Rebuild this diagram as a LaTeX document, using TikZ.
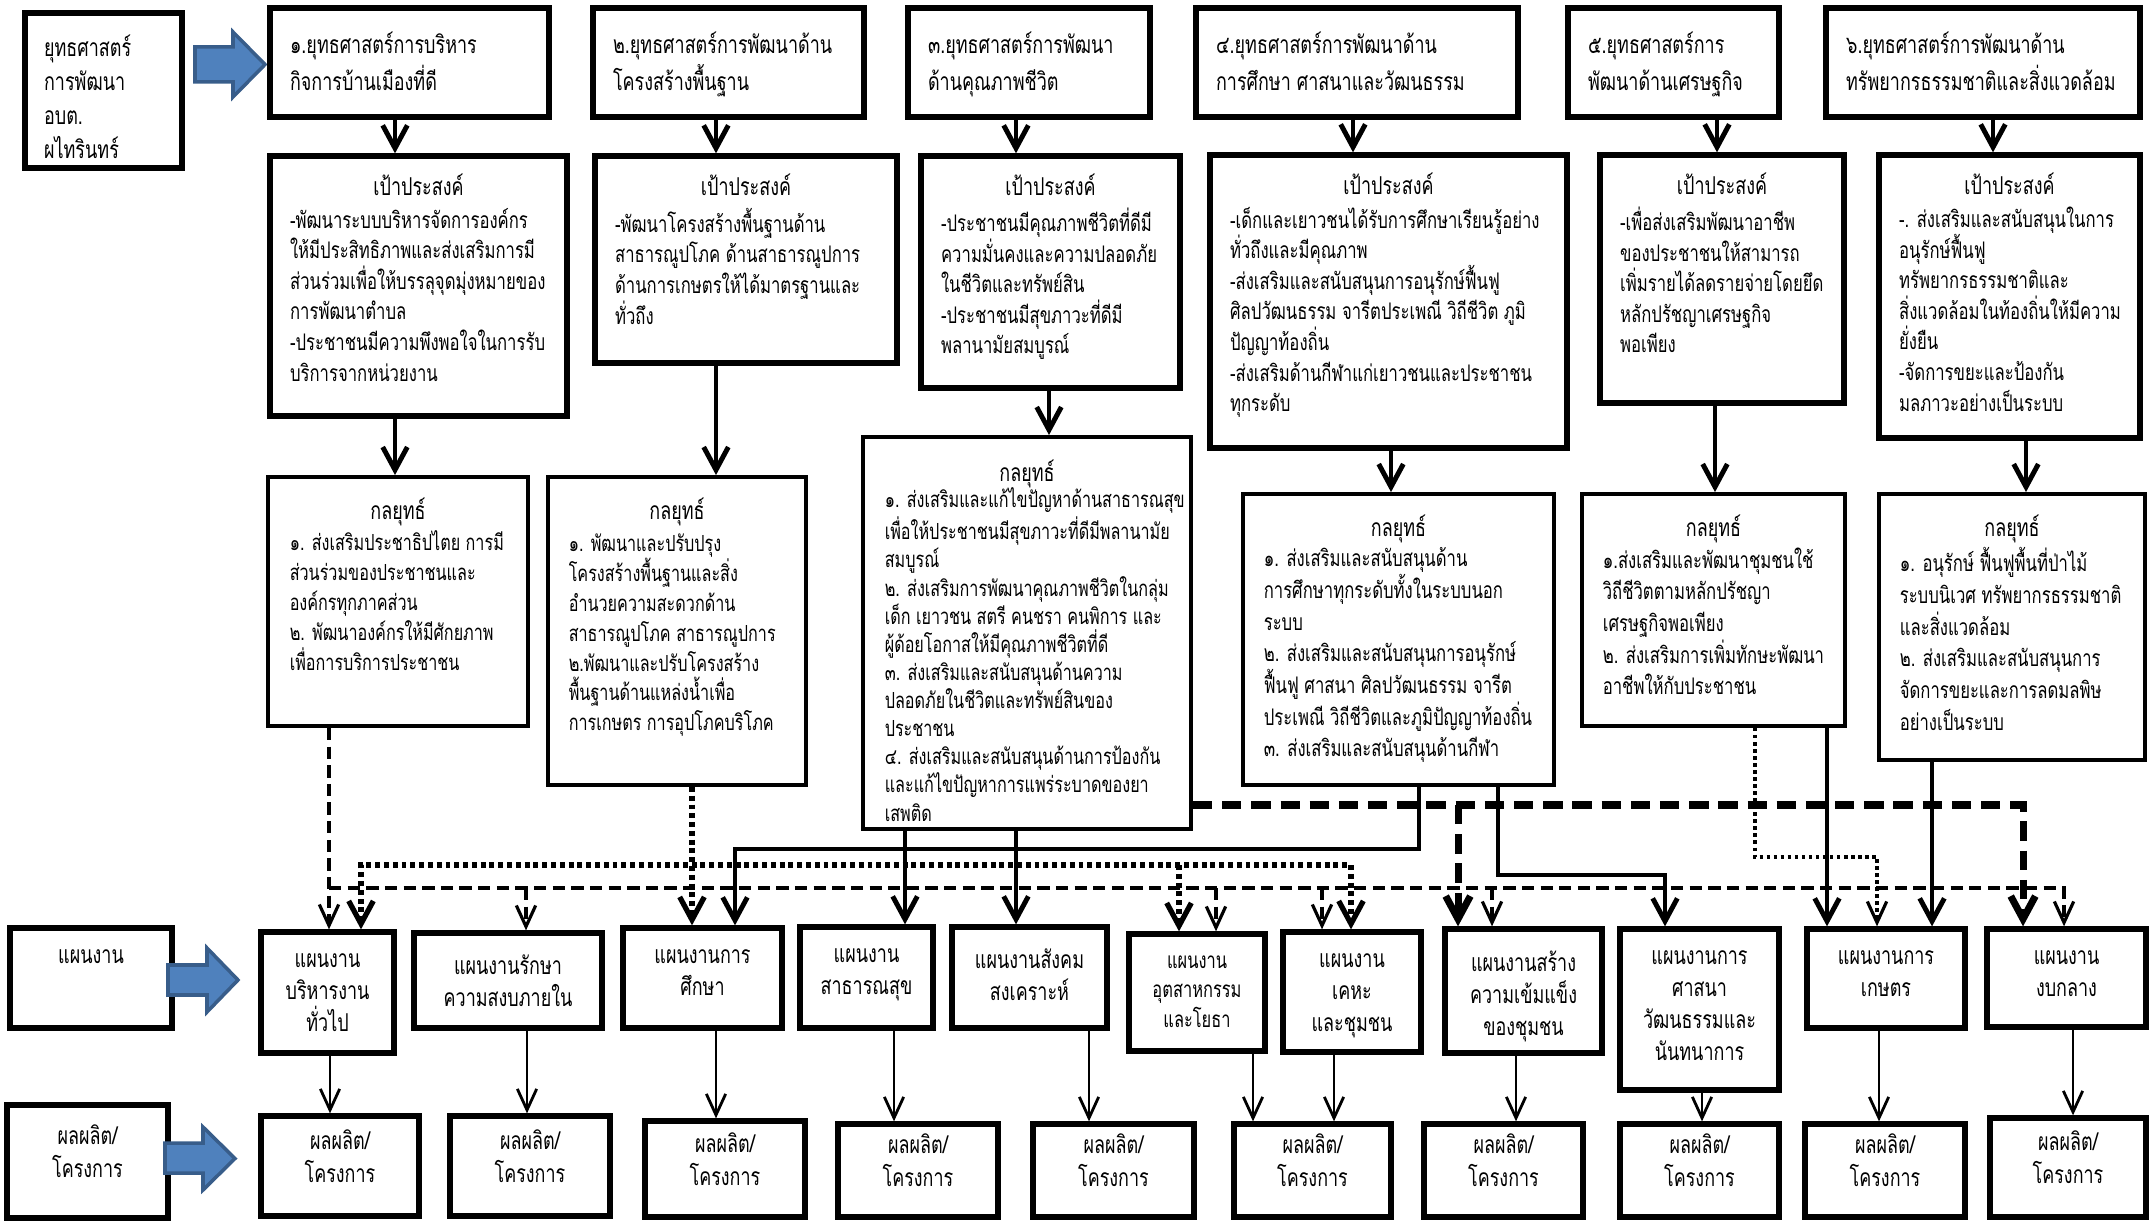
\documentclass[tikz,border=0pt]{standalone}
\usepackage{fontspec}
\newfontfamily\thai[Script=Thai,FakeStretch=0.73]{Loma}
\usetikzlibrary{arrows.meta, positioning, fit}

\definecolor{arrowfill}{RGB}{79,129,189}
\definecolor{arrowline}{RGB}{56,93,138}

\tikzset{
    tbox/.style={draw, line width=1.5pt, inner sep=0pt},
    kbox/.style={draw, line width=1.1pt, inner sep=0pt},
    stxt/.style={anchor=north west, align=left, inner sep=0pt,
        font=\thai\fontsize{7}{10.5}\selectfont},
    gtxt/.style={anchor=north west, align=left, inner sep=0pt,
        font=\thai\fontsize{6.5}{8.7}\selectfont},
    ktxt/.style={anchor=north west, align=left, inner sep=0pt,
        font=\thai\fontsize{6.3}{8.5}\selectfont},
    ptxt/.style={anchor=north, align=center, inner sep=0pt,
        font=\thai\fontsize{7}{9.1}\selectfont},
    title/.style={anchor=north, inner sep=0pt,
        font=\thai\fontsize{7}{9}\selectfont},
    bighead/.style={-{Straight Barb[length=6.5pt,width=7pt]}},
    thinhead/.style={-{Straight Barb[length=6pt,width=5.5pt]}},
    thickarr/.style={line width=1.4pt, bighead},
    thinarr/.style={line width=0.8pt, thinhead},
    thindash/.style={line width=0.9pt, dash pattern=on 3.5pt off 1.8pt, thinhead},
    thickdot/.style={line width=1.5pt, dash pattern=on 1.4pt off 1.1pt},
    heavydash/.style={line width=2pt, dash pattern=on 5.5pt off 2.8pt, bighead},
    lightdot/.style={line width=0.9pt, dash pattern=on 1pt off 1pt, thinhead},
    bluearr/.style={fill=arrowfill, draw=arrowline, line width=1pt},
}

\begin{document}
\begin{tikzpicture}[x=0.01cm, y=-0.01cm]
    \useasboundingbox (0,0) rectangle (2149,1222);

    % left column
    \node[tbox, fit={(25,13) (182,168)}]    (L1) {};
    \node[tbox, fit={(10,928) (172,1028)}]  (L2) {};
    \node[tbox, fit={(7,1105) (168,1218)}, align=center, font=\thai\fontsize{7}{9.4}\selectfont] (L3) {ผลผลิต/\\โครงการ};
    \node[stxt, font=\thai\fontsize{7}{9.7}\selectfont] (L1t) at ([shift={(21,24)}]L1.north west)
        {ยุทธศาสตร์\\การพัฒนา\\อบต.\\ผไทรินทร์};
    \node[ptxt] (L2t) at ([yshift=-0.24cm]L2.north) {แผนงาน};

    \foreach \ya/\yb/\yc/\yd/\xa/\xb/\xc in {32/47/82/97/195/233/265,
                                         948/965/995/1012/168/207/238,
                                         1127/1143/1173/1190/165/203/235}
        \filldraw[bluearr] (\xa,\yb) -- (\xb,\yb) -- (\xb,\ya) -- (\xc,{(\ya+\yd)/2})
            -- (\xb,\yd) -- (\xb,\yc) -- (\xa,\yc) -- cycle;

    % strategies
    \node[tbox, fit={(270,8) (549,117)}]    (S1) {};
    \node[tbox, fit={(593,8) (864,117)}]    (S2) {};
    \node[tbox, fit={(908,8) (1150,117)}]   (S3) {};
    \node[tbox, fit={(1196,8) (1518,117)}]  (S4) {};
    \node[tbox, fit={(1568,8) (1779,117)}]  (S5) {};
    \node[tbox, fit={(1826,8) (2140,117)}]  (S6) {};
    \node[stxt] (S1t) at ([shift={(22,26)}]S1.north west) {๑.ยุทธศาสตร์การบริหาร\\กิจการบ้านเมืองที่ดี};
    \node[stxt] (S2t) at ([shift={(22,26)}]S2.north west) {๒.ยุทธศาสตร์การพัฒนาด้าน\\โครงสร้างพื้นฐาน};
    \node[stxt] (S3t) at ([shift={(22,26)}]S3.north west) {๓.ยุทธศาสตร์การพัฒนา\\ด้านคุณภาพชีวิต};
    \node[stxt] (S4t) at ([shift={(22,26)}]S4.north west) {๔.ยุทธศาสตร์การพัฒนาด้าน\\การศึกษา ศาสนาและวัฒนธรรม};
    \node[stxt] (S5t) at ([shift={(22,26)}]S5.north west) {๕.ยุทธศาสตร์การ\\พัฒนาด้านเศรษฐกิจ};
    \node[stxt] (S6t) at ([shift={(22,26)}]S6.north west) {๖.ยุทธศาสตร์การพัฒนาด้าน\\ทรัพยากรธรรมชาติและสิ่งแวดล้อม};

    % goals
    \node[tbox, fit={(270,156) (567,416)}]   (G1) {};
    \node[tbox, fit={(595,156) (897,363)}]   (G2) {};
    \node[tbox, fit={(921,156) (1180,388)}]  (G3) {};
    \node[tbox, fit={(1210,155) (1567,448)}] (G4) {};
    \node[tbox, fit={(1600,155) (1844,403)}] (G5) {};
    \node[tbox, fit={(1879,155) (2140,438)}] (G6) {};
    \foreach \g in {G1,G2,G3,G4,G5,G6}
        \node[title] (\g h) at ([yshift=-0.2cm]\g.north) {เป้าประสงค์};
    \node[gtxt] (G1t) at ([shift={(22,54)}]G1.north west) {-พัฒนาระบบบริหารจัดการองค์กร\\ให้มีประสิทธิภาพและส่งเสริมการมี\\ส่วนร่วมเพื่อให้บรรลุจุดมุ่งหมายของ\\การพัฒนาตำบล\\-ประชาชนมีความพึงพอใจในการรับ\\บริการจากหน่วยงาน};
    \node[gtxt] (G2t) at ([shift={(22,54)}]G2.north west) {-พัฒนาโครงสร้างพื้นฐานด้าน\\สาธารณูปโภค ด้านสาธารณูปการ\\ด้านการเกษตรให้ได้มาตรฐานและ\\ทั่วถึง};
    \node[gtxt] (G3t) at ([shift={(22,54)}]G3.north west) {-ประชาชนมีคุณภาพชีวิตที่ดีมี\\ความมั่นคงและความปลอดภัย\\ในชีวิตและทรัพย์สิน\\-ประชาชนมีสุขภาวะที่ดีมี\\พลานามัยสมบูรณ์};
    \node[gtxt] (G4t) at ([shift={(22,54)}]G4.north west) {-เด็กและเยาวชนได้รับการศึกษาเรียนรู้อย่าง\\ทั่วถึงและมีคุณภาพ\\-ส่งเสริมและสนับสนุนการอนุรักษ์ฟื้นฟู\\ศิลปวัฒนธรรม จารีตประเพณี วิถีชีวิต ภูมิ\\ปัญญาท้องถิ่น\\-ส่งเสริมด้านกีฬาแก่เยาวชนและประชาชน\\ทุกระดับ};
    \node[gtxt] (G5t) at ([shift={(22,54)}]G5.north west) {-เพื่อส่งเสริมพัฒนาอาชีพ\\ของประชาชนให้สามารถ\\เพิ่มรายได้ลดรายจ่ายโดยยึด\\หลักปรัชญาเศรษฐกิจ\\พอเพียง};
    \node[gtxt] (G6t) at ([shift={(22,54)}]G6.north west) {-. ส่งเสริมและสนับสนุนในการ\\อนุรักษ์ฟื้นฟู\\ทรัพยากรธรรมชาติและ\\สิ่งแวดล้อมในท้องถิ่นให้มีความ\\ยั่งยืน\\-จัดการขยะและป้องกัน\\มลภาวะอย่างเป็นระบบ};

    % tactics
    \node[kbox, fit={(268,477) (528,726)}]   (K1) {};
    \node[kbox, fit={(548,477) (806,785)}]   (K2) {};
    \node[kbox, fit={(863,437) (1191,829)}]  (K3) {};
    \node[kbox, fit={(1243,494) (1554,785)}] (K4) {};
    \node[kbox, fit={(1582,494) (1845,726)}] (K5) {};
    \node[kbox, fit={(1879,494) (2145,760)}] (K6) {};
    \node[title] (K1h) at ([yshift=-0.22cm]K1.north) {กลยุทธ์};
    \node[title] (K2h) at ([yshift=-0.22cm]K2.north) {กลยุทธ์};
    \node[title] (K3h) at ([yshift=-0.24cm]K3.north) {กลยุทธ์};
    \node[title] (K4h) at ([yshift=-0.22cm]K4.north) {กลยุทธ์};
    \node[title] (K5h) at ([yshift=-0.22cm]K5.north) {กลยุทธ์};
    \node[title] (K6h) at ([yshift=-0.22cm]K6.north) {กลยุทธ์};
    \node[ktxt] (K1t) at ([shift={(23,55)}]K1.north west) {๑. ส่งเสริมประชาธิปไตย การมี\\ส่วนร่วมของประชาชนและ\\องค์กรทุกภาคส่วน\\๒. พัฒนาองค์กรให้มีศักยภาพ\\เพื่อการบริการประชาชน};
    \node[ktxt] (K2t) at ([shift={(22,58)}]K2.north west) {๑. พัฒนาและปรับปรุง\\โครงสร้างพื้นฐานและสิ่ง\\อำนวยความสะดวกด้าน\\สาธารณูปโภค สาธารณูปการ\\๒.พัฒนาและปรับโครงสร้าง\\พื้นฐานด้านแหล่งน้ำเพื่อ\\การเกษตร การอุปโภคบริโภค};
    \node[ktxt, font=\thai\fontsize{6.3}{8}\selectfont] (K3t) at ([shift={(23,52)}]K3.north west) {๑. ส่งเสริมและแก้ไขปัญหาด้านสาธารณสุข\\เพื่อให้ประชาชนมีสุขภาวะที่ดีมีพลานามัย\\สมบูรณ์\\๒. ส่งเสริมการพัฒนาคุณภาพชีวิตในกลุ่ม\\เด็ก เยาวชน สตรี คนชรา คนพิการ และ\\ผู้ด้อยโอกาสให้มีคุณภาพชีวิตที่ดี\\๓. ส่งเสริมและสนับสนุนด้านความ\\ปลอดภัยในชีวิตและทรัพย์สินของ\\ประชาชน\\๔. ส่งเสริมและสนับสนุนด้านการป้องกัน\\และแก้ไขปัญหาการแพร่ระบาดของยา\\เสพติด};
    \node[gtxt, font=\thai\fontsize{6.5}{9}\selectfont] (K4t) at ([shift={(22,55)}]K4.north west) {๑. ส่งเสริมและสนับสนุนด้าน\\การศึกษาทุกระดับทั้งในระบบนอก\\ระบบ\\๒. ส่งเสริมและสนับสนุนการอนุรักษ์\\ฟื้นฟู ศาสนา ศิลปวัฒนธรรม จารีต\\ประเพณี วิถีชีวิตและภูมิปัญญาท้องถิ่น\\๓. ส่งเสริมและสนับสนุนด้านกีฬา};
    \node[gtxt, font=\thai\fontsize{6.5}{9}\selectfont] (K5t) at ([shift={(22,55)}]K5.north west) {๑.ส่งเสริมและพัฒนาชุมชนใช้\\วิถีชีวิตตามหลักปรัชญา\\เศรษฐกิจพอเพียง\\๒. ส่งเสริมการเพิ่มทักษะพัฒนา\\อาชีพให้กับประชาชน};
    \node[gtxt, font=\thai\fontsize{6.5}{9}\selectfont] (K6t) at ([shift={(22,55)}]K6.north west) {๑. อนุรักษ์ ฟื้นฟูพื้นที่ป่าไม้\\ระบบนิเวศ ทรัพยากรธรรมชาติ\\และสิ่งแวดล้อม\\๒. ส่งเสริมและสนับสนุนการ\\จัดการขยะและการลดมลพิษ\\อย่างเป็นระบบ};

    % plans
    \node[tbox, fit={(261,932) (394,1053)}]   (P1) {};
    \node[tbox, fit={(414,933) (602,1028)}]   (P2) {};
    \node[tbox, fit={(623,928) (782,1028)}]   (P3) {};
    \node[tbox, fit={(800,927) (933,1028)}]   (P4) {};
    \node[tbox, fit={(952,927) (1107,1028)}]  (P5) {};
    \node[tbox, fit={(1129,934) (1265,1051)}] (P6) {};
    \node[tbox, fit={(1283,932) (1421,1052)}] (P7) {};
    \node[tbox, fit={(1445,929) (1602,1053)}] (P8) {};
    \node[tbox, fit={(1620,929) (1779,1090)}] (P9) {};
    \node[tbox, fit={(1807,929) (1965,1028)}] (P10) {};
    \node[tbox, fit={(1987,929) (2146,1027)}] (P11) {};
    \node[ptxt] (P1t) at ([yshift=-0.24cm]P1.north) {แผนงาน\\บริหารงาน\\ทั่วไป};
    \node[ptxt] (P2t) at ([yshift=-0.24cm]P2.north) {แผนงานรักษา\\ความสงบภายใน};
    \node[ptxt] (P3t) at ([yshift=-0.24cm]P3.north) {แผนงานการ\\ศึกษา};
    \node[ptxt] (P4t) at ([yshift=-0.24cm]P4.north) {แผนงาน\\สาธารณสุข};
    \node[ptxt] (P5t) at ([yshift=-0.24cm]P5.north) {แผนงานสังคม\\สงเคราะห์};
    \node[ptxt, font=\thai\fontsize{6.4}{8.3}\selectfont] (P6t) at ([yshift=-0.24cm]P6.north) {แผนงาน\\อุตสาหกรรม\\และโยธา};
    \node[ptxt] (P7t) at ([yshift=-0.24cm]P7.north) {แผนงาน\\เคหะ\\และชุมชน};
    \node[ptxt] (P8t) at ([yshift=-0.24cm]P8.north) {แผนงานสร้าง\\ความเข้มแข็ง\\ของชุมชน};
    \node[ptxt] (P9t) at ([yshift=-0.24cm]P9.north) {แผนงานการ\\ศาสนา\\วัฒนธรรมและ\\นันทนาการ};
    \node[ptxt] (P10t) at ([yshift=-0.24cm]P10.north) {แผนงานการ\\เกษตร};
    \node[ptxt] (P11t) at ([yshift=-0.24cm]P11.north) {แผนงาน\\งบกลาง};

    % products
    \foreach \r/\xa/\ya/\xb/\yb in {R1/261/1116/419/1216, R2/450/1116/610/1216,
                                   R3/645/1121/805/1217, R4/838/1124/998/1217,
                                   R5/1033/1124/1194/1217, R6/1234/1124/1391/1217,
                                   R7/1424/1124/1583/1217, R8/1620/1124/1779/1217,
                                   R9/1805/1124/1965/1217, R10/1990/1118/2146/1217}
        \node[tbox, fit={(\xa,\ya) (\xb,\yb)}, align=center,
              font=\thai\fontsize{7}{9.4}\selectfont] (\r) {ผลผลิต/\\โครงการ};

    % strategy -> goal -> tactic
    \foreach \a/\b/\x in {S1/G1/395, S2/G2/716, S3/G3/1016,
                          S4/G4/1353, S5/G5/1717, S6/G6/1993}
        \draw[thickarr] (\a.south -| \x,0) -- (\b.north -| \x,0);
    \foreach \b/\c/\x in {G1/K1/395, G2/K2/716, G3/K3/1049,
                          G4/K4/1391, G5/K5/1715, G6/K6/2026}
        \draw[thickarr] (\b.south -| \x,0) -- (\c.north -| \x,0);

    % plan -> product
    \foreach \p/\r/\x in {P1/R1/330, P2/R2/527, P3/R3/716, P4/R4/894, P5/R5/1089,
                          P6/R6/1253, P7/R6/1334, P8/R7/1516, P9/R8/1702,
                          P10/R9/1879, P11/R10/2073}
        \draw[thinarr] (\p.south -| \x,0) -- (\r.north -| \x,0);

    % tactic 1
    \coordinate (busA) at (329,888);
    \draw[thindash] (K1.south -| busA) -- (P1.north -| busA);
    \draw[thindash] (busA) -| (P11.north -| 2064,0);
    \foreach \x/\p in {526/P2, 1216/P6, 1322/P7, 1492/P8}
        \draw[thindash] (busA -| \x,0) -- (\p.north -| \x,0);

    % tactic 2
    \coordinate (busB) at (361,865);
    \draw[thickdot, bighead] (K2.south -| 692,0) -- (P3.north -| 692,0);
    \draw[thickdot, {Straight Barb[length=6.5pt,width=7pt]}-{Straight Barb[length=6.5pt,width=7pt]}]
        (P1.north -| busB) -- (busB) -| (P7.north -| 1351,0);
    \draw[thickdot, bighead] (busB -| 1179,0) -- (P6.north -| 1179,0);

    % tactic 3
    \coordinate (busC) at (2023,805);
    \draw[thickarr] (K3.south -| 905,0) -- (P4.north -| 905,0);
    \draw[thickarr] (K3.south -| 1016,0) -- (P5.north -| 1016,0);
    \draw[heavydash] (K3.east |- busC) -| (P11.north -| busC);
    \draw[heavydash] (busC -| 1458,0) -- (P8.north -| 1458,0);

    % tactic 4
    \coordinate (busD) at (735,849);
    \coordinate (busE) at (1665,875);
    \draw[thickarr] (K4.south -| 1419,0) |- (busD) -- (P3.north -| busD);
    \draw[thickarr] (K4.south -| 1498,0) |- (busE) -- (P9.north -| busE);

    % tactic 5 and 6
    \coordinate (busF) at (1877,857);
    \draw[lightdot] (K5.south -| 1755,0) |- (busF) -- (P10.north -| busF);
    \draw[thickarr] (K5.south -| 1827,0) -- (P10.north -| 1827,0);
    \draw[thickarr] (K6.south -| 1932,0) -- (P10.north -| 1932,0);
\end{tikzpicture}
\end{document}
